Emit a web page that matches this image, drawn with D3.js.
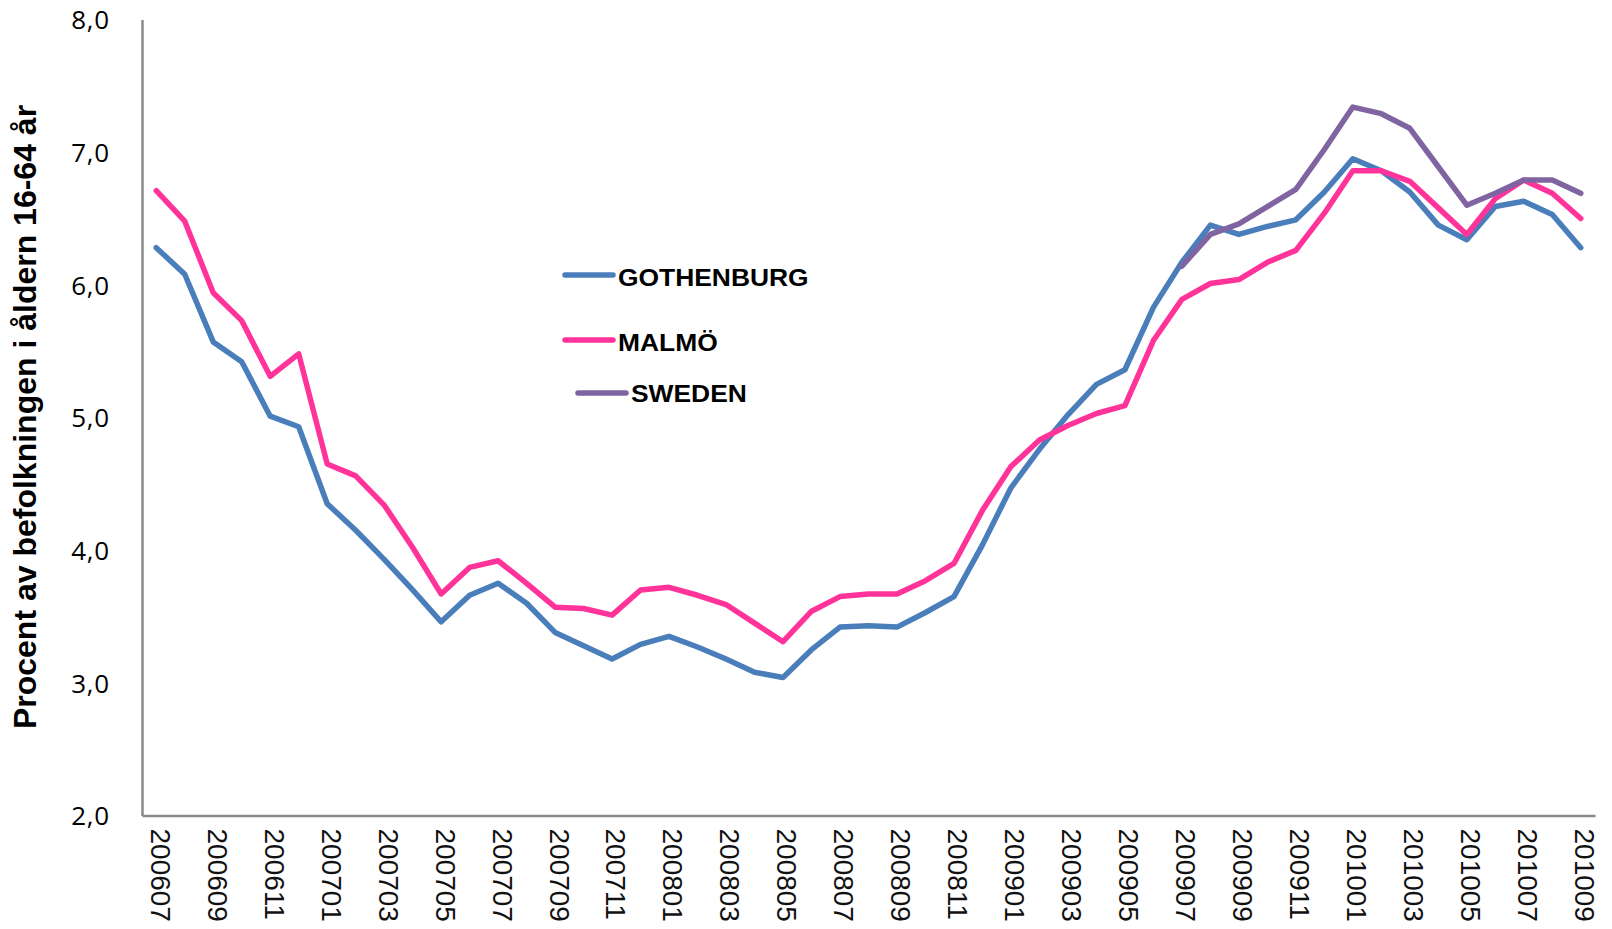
<!DOCTYPE html>
<html>
<head>
<meta charset="utf-8">
<script src="https://cdn.jsdelivr.net/npm/d3@7"></script>
<style>
    body { margin: 0; background: #fff; }
    svg { display: block; }
</style>
</head>
<body>
<svg id="chart"></svg>
<script>
// Months on the x axis (every second one gets a label)
const months = [
    '200607','200608','200609','200610','200611','200612',
    '200701','200702','200703','200704','200705','200706','200707','200708','200709','200710','200711','200712',
    '200801','200802','200803','200804','200805','200806','200807','200808','200809','200810','200811','200812',
    '200901','200902','200903','200904','200905','200906','200907','200908','200909','200910','200911','200912',
    '201001','201002','201003','201004','201005','201006','201007','201008','201009'
];

const gothenburg = [
    6.28, 6.08, 5.57, 5.42, 5.01, 4.93,
    4.35, 4.15, 3.93, 3.70, 3.46, 3.66, 3.75, 3.60, 3.38, 3.28, 3.18, 3.29,
    3.35, 3.27, 3.18, 3.08, 3.04, 3.25, 3.42, 3.43, 3.42, 3.53, 3.65, 4.04,
    4.47, 4.76, 5.02, 5.25, 5.36, 5.83, 6.17, 6.45, 6.38, 6.44, 6.49, 6.70,
    6.95, 6.86, 6.70, 6.45, 6.34, 6.59, 6.63, 6.53, 6.28
];

const malmo = [
    6.71, 6.48, 5.94, 5.73, 5.31, 5.48,
    4.65, 4.56, 4.34, 4.02, 3.67, 3.87, 3.92, 3.75, 3.57, 3.56, 3.51, 3.70,
    3.72, 3.66, 3.59, 3.45, 3.31, 3.54, 3.65, 3.67, 3.67, 3.77, 3.90, 4.30,
    4.63, 4.83, 4.94, 5.03, 5.09, 5.58, 5.89, 6.01, 6.04, 6.17, 6.26, 6.54,
    6.86, 6.86, 6.78, 6.58, 6.38, 6.65, 6.79, 6.69, 6.50
];

// Sweden only starts in July 2009
const sweden = [
    null, null, null, null, null, null,
    null, null, null, null, null, null, null, null, null, null, null, null,
    null, null, null, null, null, null, null, null, null, null, null, null,
    null, null, null, null, null, null, 6.14, 6.38, 6.46, 6.59, 6.72, 7.02,
    7.34, 7.29, 7.18, 6.89, 6.60, 6.69, 6.79, 6.79, 6.69
];

const yTicks = [2, 3, 4, 5, 6, 7, 8];
const seriesNames = ['GOTHENBURG', 'MALMÖ', 'SWEDEN'];
const seriesColors = ['#4a7ebb', '#ff3399', '#8064a2'];

const width = 1612,
      height = 929;

const svg = d3.select('#chart')
    .attr('width', width)
    .attr('height', height);

// Scales
const x = d3.scaleBand()
    .domain(months)
    .range([142, 1595]);

const y = d3.scaleLinear()
    .domain([2, 8])
    .range([815.5, 19.5]);

const xc = m => x(m) + x.bandwidth() / 2;

// Y axis (line + labels, no tick marks)
const yAxis = d3.axisLeft(y)
    .tickValues(yTicks)
    .tickSize(0)
    .tickPadding(32)
    .tickFormat(d => d3.format('.1f')(d).replace('.', ','));

svg.append('g')
    .attr('transform', 'translate(142,0)')
    .call(yAxis)
    .call(g => g.select('.domain').attr('stroke', '#8a8a8a').attr('stroke-width', 2.5))
    .call(g => g.selectAll('text')
        .attr('font-family', '"Open Sans", sans-serif')
        .attr('font-size', 26)
        .attr('letter-spacing', 0.8)
        .attr('fill', '#000')
        .attr('dy', '0.36em'));

// X axis
const xAxis = d3.axisBottom(x)
    .tickValues(months.filter((m, i) => i % 2 === 0))
    .tickSize(0)
    .tickFormat(d => d);

svg.append('g')
    .attr('transform', 'translate(0,815.5)')
    .call(xAxis)
    .call(g => g.select('.domain').attr('stroke', '#8a8a8a').attr('stroke-width', 2.5))
    .call(g => g.selectAll('text')
        .attr('font-family', '"Liberation Sans", Arial, sans-serif')
        .attr('font-size', 28)
        .attr('fill', '#111')
        .attr('text-anchor', 'start')
        .attr('dy', '0.36em')
        .attr('y', 0)
        .attr('transform', 'translate(4.5,13) rotate(90)'));

// Y axis title
svg.append('text')
    .attr('transform', 'translate(36,417) rotate(-90)')
    .attr('text-anchor', 'middle')
    .attr('font-family', '"Liberation Sans", Arial, sans-serif')
    .attr('font-weight', 'bold')
    .attr('font-size', 32)
    .attr('fill', '#000')
    .text('Procent av befolkningen i åldern 16-64 år');

// Lines
const line = d3.line()
    .defined(d => d.v != null)
    .x(d => xc(d.m))
    .y(d => y(d.v));

[gothenburg, malmo, sweden].forEach((vals, k) => {
    svg.append('path')
        .datum(months.map((m, i) => ({ m: m, v: vals[i] })))
        .attr('fill', 'none')
        .attr('stroke', seriesColors[k])
        .attr('stroke-width', 5.5)
        .attr('stroke-linejoin', 'round')
        .attr('stroke-linecap', 'round')
        .attr('d', line);
});

// Legend (placed loosely inside the plot, like the original)
const legendPos = [
    { x1: 565, x2: 613, y: 275, tx: 618, ty: 286 },
    { x1: 565, x2: 613, y: 340, tx: 618, ty: 351 },
    { x1: 578, x2: 626, y: 393, tx: 631, ty: 402 }
];

const legend = svg.append('g');
seriesNames.forEach((name, k) => {
    const p = legendPos[k];
    legend.append('line')
        .attr('x1', p.x1).attr('x2', p.x2)
        .attr('y1', p.y).attr('y2', p.y)
        .attr('stroke', seriesColors[k])
        .attr('stroke-width', 5.5)
        .attr('stroke-linecap', 'round');
    legend.append('text')
        .attr('transform', 'translate(' + p.tx + ',' + p.ty + ') scale(1.1,1)')
        .attr('font-family', '"Liberation Sans", Arial, sans-serif')
        .attr('font-weight', 'bold')
        .attr('font-size', 24)
        .attr('fill', '#000')
        .text(name);
});
</script>
</body>
</html>
